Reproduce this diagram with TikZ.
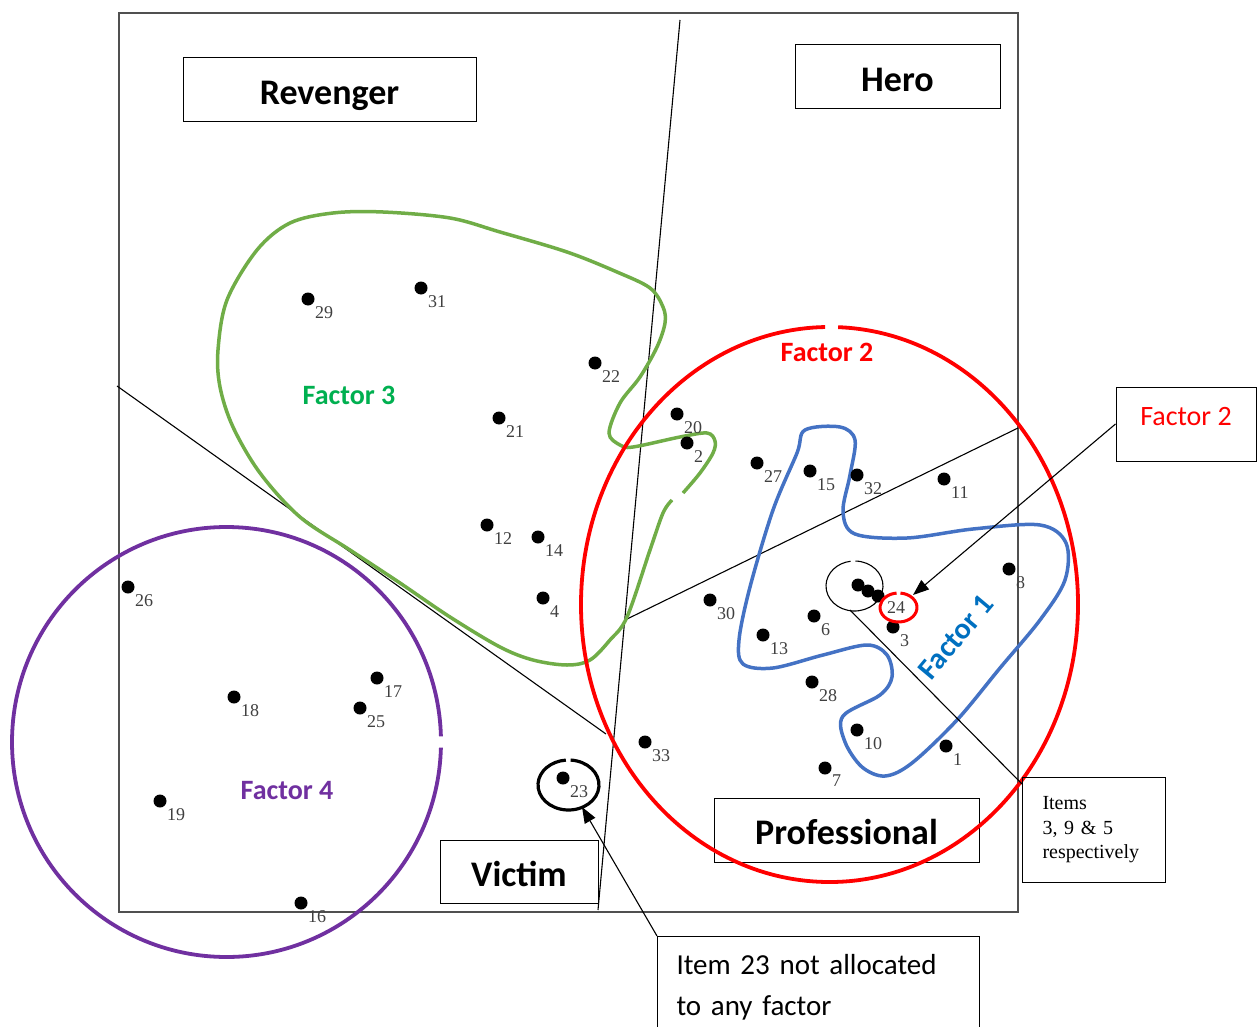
\documentclass[tikz,border=0pt]{standalone}
\usepackage{fontspec}
\setmainfont{Liberation Serif}
\newfontfamily\calibrifont{Carlito}
\usetikzlibrary{arrows.meta,calc}
\definecolor{fred}{HTML}{FF0000}
\definecolor{fgreen}{HTML}{70AD47}
\definecolor{fgreentext}{HTML}{00B050}
\definecolor{fpurple}{HTML}{7030A0}
\definecolor{fblue}{HTML}{4472C4}
\definecolor{fbluetext}{HTML}{0070C0}
\definecolor{framegray}{HTML}{505050}
\newcommand\sz[1]{\fontsize{#1}{#1}\selectfont}
% a plotted item: dot plus its number below right
\newcommand\plotitem[3]{%
  \node[dot] (p#1) at (#2,#3) {};
  \node[num] (n#1) at ([shift={(7,7)}]p#1.center) {#1};}
\begin{document}
\begin{tikzpicture}[x=1pt,y=-1pt,
  dot/.style={circle,fill=black,inner sep=0pt,minimum size=13pt},
  num/.style={font=\sz{18},text=black!75,inner sep=0pt,anchor=north west},
  rolebox/.style={draw,line width=1pt,font=\calibrifont\bfseries\sz{36},inner sep=0pt,text height=29pt,text depth=0pt},
  factorlabel/.style={font=\calibrifont\bfseries\sz{28}},
  divider/.style={line width=1.1pt,black},
  ring/.style={line width=3.8pt},
  pointer/.style={line width=1.1pt,-{Triangle[length=16pt,width=12pt]}},
]
\useasboundingbox (0,0) rectangle (1260,1027);
\fill[white] (0,0) rectangle (1260,1027);
\clip (0,0) rectangle (1260,1027);

% plot frame
\draw[framegray,line width=2.2pt] (119,13) rectangle (1018,912);

% dividing lines
\coordinate (vtop) at (680,20);
\coordinate (vbot) at (598,910);
\coordinate (dleft) at (117,386);
\coordinate (dend) at (606,734);
\coordinate (rstart) at (625,620);
\coordinate (rend) at (1018,428);
\draw[divider] (vtop) -- (vbot);
\draw[divider] (dleft) -- (dend);
\draw[divider] (rstart) -- (rend);

% role boxes
\node[rolebox,minimum width=293pt,minimum height=64pt] (revenger) at (329.5,90) {Revenger};
\node[rolebox,minimum width=205pt,minimum height=64pt] (hero) at (897.5,77) {Hero};
\node[rolebox,minimum width=265pt,minimum height=64pt] (professional) at (846.5,830) {Professional};
\node[rolebox,minimum width=158pt,minimum height=63pt] (victim) at (519,871.5) {Victim};

% Factor 3
\draw[fgreen,line width=3.5pt] plot[smooth,tension=0.55] coordinates {
 (672,500) (663,513) (650,550) (627,617) (610,640) (590,660) (567,665) (533,660)
 (500,647) (450,617) (400,583) (350,550) (300,517) (260,473) (233,427) (220,387)
 (218,350) (227,300) (257,250) (290,223) (333,213) (383,212) (450,218) (500,232)
 (567,252) (617,272) (650,288) (663,307) (665,323) (657,347) (640,377) (620,403)
 (609,433) (620,445) (633,447) (680,437) (707,433) (715,441) (713,453) (700,473) (683,493)};
\node[factorlabel,text=fgreentext] (f3) at (349,395) {Factor 3};

% Factor 1
\draw[fblue,line width=3.5pt] plot[smooth cycle,tension=0.55] coordinates {
 (805,430) (840,427) (855,440) (850,475) (843,512) (855,534) (907,538) (973,529)
 (1040,525) (1066,543) (1065,580) (1040,620) (1000,668) (957,720) (912,763)
 (885,776) (862,767) (845,742) (843,716) (880,695) (892,677) (887,655) (867,645)
 (823,655) (773,668) (743,664) (739,640) (750,587) (773,510) (797,453)};
\node[font=\calibrifont\bfseries\sz{30},text=fbluetext,rotate=50] (f1) at (956,637) {Factor 1};

% Factor 2
\coordinate (f2c) at (829.5,604.5);
\draw[fred,ring] ([shift={(-88:248.5 and 277.5)}]f2c) arc[start angle=-88,end angle=269,x radius=248.5,y radius=277.5];
\node[factorlabel,text=fred] (f2) at (827,352) {Factor 2};

% Factor 4
\coordinate (f4c) at (226.5,742);
\draw[fpurple,ring] ([shift={(1.5:214.5 and 215)}]f4c) arc[start angle=1.5,end angle=358.5,x radius=214.5,y radius=215];
\node[factorlabel,text=fpurple] (f4) at (287,791) {Factor 4};

% items
\plotitem{1}{946}{746}
\plotitem{2}{687}{443}
\plotitem{3}{893}{627}
\plotitem{4}{543}{598}
\plotitem{6}{814}{616}
\plotitem{7}{825}{768}
\plotitem{8}{1009}{569}
\plotitem{10}{857}{730}
\plotitem{11}{944}{479}
\plotitem{12}{487}{525}
\plotitem{13}{763}{635}
\plotitem{14}{538}{537}
\plotitem{15}{810}{471}
\plotitem{16}{301}{903}
\plotitem{17}{377}{678}
\plotitem{18}{234}{697}
\plotitem{19}{160}{801}
\plotitem{20}{677}{414}
\plotitem{21}{499}{418}
\plotitem{22}{595}{363}
\plotitem{23}{563}{778}
\plotitem{25}{360}{708}
\plotitem{26}{128}{587}
\plotitem{27}{757}{463}
\plotitem{28}{812}{682}
\plotitem{29}{308}{299}
\plotitem{30}{710}{600}
\plotitem{31}{421}{288}
\plotitem{32}{857}{475}
\plotitem{33}{645}{742}
\node[dot] (p9) at (858,585) {};
\node[dot] (p5) at (868,591) {};
\node[dot] (p24) at (878,596) {};
\node[num] (n24) at (887,601) {24};

% highlight rings
\coordinate (c95) at (854.5,586);
\draw[line width=1.1pt] ([shift={(-88:28.5 and 25)}]c95) arc[start angle=-88,end angle=262,x radius=28.5,y radius=25];
\coordinate (c24) at (898.5,607.5);
\draw[fred,line width=3pt] ([shift={(-84:18.5 and 14.5)}]c24) arc[start angle=-84,end angle=264,x radius=18.5,y radius=14.5];
\coordinate (c23) at (568.5,785);
\draw[line width=3.2pt] ([shift={(-86:30.5 and 25)}]c23) arc[start angle=-86,end angle=265,x radius=30.5,y radius=25];

% annotation boxes
\node[draw,line width=1pt,minimum width=140pt,minimum height=74pt,inner sep=0pt,
      font=\calibrifont\sz{28},text=fred,text height=18pt,text depth=16pt] (f2box) at (1186,424) {Factor 2};
\node[draw,line width=1pt,anchor=north west,minimum width=143pt,minimum height=105pt,
      text width=103pt,inner xsep=20pt,inner ysep=0pt,align=left,
      font=\fontsize{20}{24.5}\selectfont] (itemsbox) at (1022,777)
      {Items\\3, 9 \& 5\\respectively};
\node[draw,line width=1pt,anchor=north west,minimum width=322pt,minimum height=102pt,
      text width=284pt,inner xsep=19pt,inner ysep=0pt,align=left,
      font=\calibrifont\fontsize{29}{41}\selectfont] (note23) at (657,936)
      {Item 23 not allocated\\to any factor};

% connectors
\coordinate (t24) at (913,595);
\coordinate (t23) at (582,807);
\coordinate (b95) at (850,610);
\draw[pointer] (f2box.west) -- (t24);
\draw[pointer] (note23.north west) -- (t23);
\draw[divider] (b95) -- ($(itemsbox.north west)+(0,7)$);
\end{tikzpicture}
\end{document}
